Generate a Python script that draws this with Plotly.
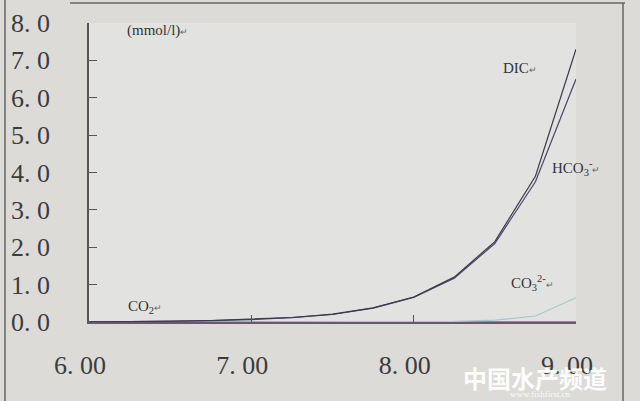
import plotly.graph_objects as go

ph = [6.0, 6.25, 6.5, 6.75, 7.0, 7.25, 7.5, 7.75, 8.0, 8.25, 8.5, 8.75, 9.0]
dic = [0.005, 0.01, 0.02, 0.04, 0.07, 0.12, 0.21, 0.38, 0.67, 1.2, 2.15, 3.9, 7.3]
hco3 = [0.0, 0.005, 0.015, 0.035, 0.065, 0.115, 0.2, 0.37, 0.66, 1.17, 2.1, 3.75, 6.5]
co3 = [0.0, 0.0, 0.0, 0.0, 0.0, 0.0, 0.0, 0.0, 0.005, 0.015, 0.05, 0.16, 0.65]
co2 = [0.01, 0.01, 0.01, 0.01, 0.005, 0.005, 0.005, 0.0, 0.0, 0.0, 0.0, 0.0, 0.0]

y_ticks = [0, 1, 2, 3, 4, 5, 6, 7, 8]
y_ticktext = ["0. 0", "1. 0", "2. 0", "3. 0", "4. 0", "5. 0", "6. 0", "7. 0", "8. 0"]
x_ticks = [6, 7, 8, 9]
x_ticktext = ["6. 00", "7. 00", "8. 00", "9. 00"]

fig = go.Figure()
fig.add_trace(go.Scatter(x=ph, y=co2, mode="lines", line=dict(color="#9a5a88", width=1.5)))
fig.add_trace(go.Scatter(x=ph, y=co3, mode="lines", line=dict(color="#a8c8cc", width=1.2)))
fig.add_trace(go.Scatter(x=ph, y=hco3, mode="lines", line=dict(color="#4c4470", width=1.2)))
fig.add_trace(go.Scatter(x=ph, y=dic, mode="lines", line=dict(color="#3a3a48", width=1.2)))

serif = "Liberation Serif, Times New Roman, serif"
tick_font = dict(family=serif, size=26, color="#3c3c3c")

fig.update_layout(
    width=640, height=401,
    margin=dict(l=89, r=64, t=23, b=79),
    paper_bgcolor="#dcdbd8",
    plot_bgcolor="#e2e3e1",
    showlegend=False,
    xaxis=dict(range=[6, 9], tickvals=x_ticks, ticktext=x_ticktext, showgrid=False, zeroline=False,
               showline=True, linecolor="#6e5670", linewidth=2, ticks="inside", ticklen=7,
               tickcolor="#555", tickfont=tick_font, ticklabelstandoff=19, ticklabelshift=-9,
               automargin=False),
    yaxis=dict(range=[0, 8], tickvals=y_ticks, ticktext=y_ticktext, showgrid=False, zeroline=False,
               showline=True, linecolor="#555", linewidth=1.5, ticks="inside", ticklen=8,
               tickcolor="#555", tickfont=tick_font, ticklabelstandoff=32, automargin=False),
)

ann_font = dict(family=serif, size=15, color="#333")
mark = "<span style='font-size:9px;color:#666'>↵</span>"
annots = [
    (0.14, 0.975, "(mmol/l)" + mark),
    (0.885, 0.85, "DIC" + mark),
    (1.0, 0.515, "HCO<sub>3</sub><sup>-</sup>" + mark),
    (0.91, 0.13, "CO<sub>3</sub><sup>2-</sup>" + mark),
    (0.115, 0.05, "CO<sub>2</sub>" + mark),
]
for x, y, t in annots:
    fig.add_annotation(x=x, y=y, xref="paper", yref="paper", text=t, showarrow=False,
                       font=ann_font, xanchor="center", yanchor="middle")

# frame lines of the photographed page
def px(x):
    return (x - 89) / 487
def py(y):
    return (322 - y) / 299
frame = dict(color="#666", width=1.5)
fig.add_shape(type="line", xref="paper", yref="paper", x0=px(5), x1=px(5), y0=py(0), y1=py(401), line=frame)
fig.add_shape(type="line", xref="paper", yref="paper", x0=px(70), x1=px(625), y0=py(3), y1=py(3), line=frame)
fig.add_shape(type="line", xref="paper", yref="paper", x0=px(623), x1=px(623), y0=py(3), y1=py(401), line=frame)

# watermark
fig.add_annotation(x=px(535), y=py(377), xref="paper", yref="paper", text="<b>中国水产频道</b>",
                   showarrow=False, xanchor="center", yanchor="middle",
                   font=dict(family="Noto Sans CJK SC", size=24, color="rgba(255,255,255,0.95)"))
fig.add_annotation(x=px(540), y=py(394), xref="paper", yref="paper", text="www.fishfirst.cn",
                   showarrow=False, xanchor="center", yanchor="middle",
                   font=dict(family=serif, size=9, color="rgba(255,255,255,0.9)"))

fig.write_html("out.html", config={"displayModeBar": False},
               post_script="document.body.style.margin='0px';")
